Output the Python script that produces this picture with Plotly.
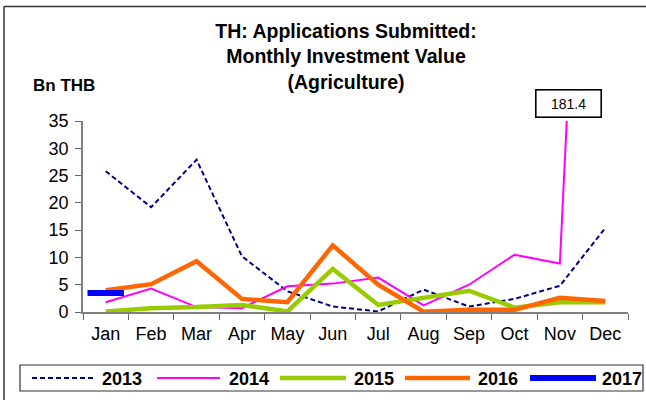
import plotly.graph_objects as go

months = ["Jan", "Feb", "Mar", "Apr", "May", "Jun", "Jul", "Aug", "Sep", "Oct", "Nov", "Dec"]
v2013 = [25.8, 19.2, 27.9, 10.2, 3.8, 1.0, 0.1, 4.1, 1.0, 2.4, 4.8, 15.4]
v2014 = [1.8, 4.3, 0.9, 0.7, 4.7, 5.2, 6.3, 1.2, 5.0, 10.5, 8.9, 181.4]
v2015 = [0.1, 0.7, 0.9, 1.3, 0.1, 7.9, 1.3, 2.7, 3.9, 0.8, 1.8, 1.8]
v2016 = [4.0, 5.1, 9.3, 2.4, 1.8, 12.2, 5.0, 0.05, 0.4, 0.4, 2.6, 2.0]
v2017 = [3.5]
years = ["2013", "2014", "2015", "2016", "2017"]
y_ticks = [0, 5, 10, 15, 20, 25, 30, 35]
peak_label = "181.4"

W, H = 646, 400
ML, MR, MT, MB = 83, 18, 121, 88
PW, PH = W - ML - MR, H - MT - MB


def px(x):
    return (x - ML) / PW


def py(y):
    return (H - MB - y) / PH


FONT = "Liberation Sans, Arial, sans-serif"
styles = {
    "2013": dict(color="#000080", width=2, dash="5px,3px"),
    "2014": dict(color="#FF00FF", width=2, dash="solid"),
    "2015": dict(color="#99CC00", width=4.5, dash="solid"),
    "2016": dict(color="#FF6600", width=4.5, dash="solid"),
    "2017": dict(color="#0000FF", width=6, dash="solid"),
}

fig = go.Figure()
for name, vals in zip(years[:4], [v2013, v2014, v2015, v2016]):
    fig.add_trace(go.Scatter(x=months[:len(vals)], y=vals, mode="lines", name=name,
                             line=styles[name], showlegend=False))
fig.add_trace(go.Scatter(x=months[:len(v2017)], y=v2017, mode="markers", name="2017",
                         marker=dict(symbol="line-ew", size=26,
                                     line=dict(color="#0000FF", width=6)),
                         showlegend=False, cliponaxis=False))

shapes = []
annotations = []
# page frame
shapes.append(dict(type="line", xref="paper", yref="paper", x0=px(4), x1=px(W + 5),
                   y0=py(6.5), y1=py(6.5), line=dict(color="#333333", width=1.5)))
shapes.append(dict(type="line", xref="paper", yref="paper", x0=px(4), x1=px(4),
                   y0=py(6.5), y1=py(H + 5), line=dict(color="#333333", width=1.5)))

# legend box
shapes.append(dict(type="rect", xref="paper", yref="paper", x0=px(20), x1=px(643),
                   y0=py(365), y1=py(391), line=dict(color="#333333", width=1.2),
                   fillcolor="white", layer="below"))
leg_x = [(32, 95, 100), (157, 220, 227), (280, 346, 352), (405, 470, 476), (530, 596, 600)]
leg_y = 378
for name, (a, b, t) in zip(years, leg_x):
    st = styles[name]
    shapes.append(dict(type="line", xref="paper", yref="paper", x0=px(a), x1=px(b),
                       y0=py(leg_y), y1=py(leg_y),
                       line=dict(color=st["color"], width=st["width"], dash=st["dash"])))
    annotations.append(dict(xref="paper", yref="paper", x=px(t), y=py(leg_y + 0.5), text="<b>%s</b>" % name,
                            showarrow=False, xanchor="left", yanchor="middle",
                            font=dict(family=FONT, size=18, color="black")))

# unit label
annotations.append(dict(xref="paper", yref="paper", x=px(31), y=py(85), text="<b>Bn THB</b>",
                        showarrow=False, xanchor="left", yanchor="middle",
                        font=dict(family=FONT, size=17, color="black")))
# peak label
annotations.append(dict(xref="paper", yref="paper", x=px(568), y=py(103.5), text=peak_label,
                        showarrow=False, xanchor="center", yanchor="middle",
                        width=62, height=24, borderpad=1, bordercolor="black", borderwidth=1.6,
                        bgcolor="white", font=dict(family=FONT, size=14, color="black")))

fig.update_layout(
    width=W, height=H,
    margin=dict(l=ML, r=MR, t=MT, b=MB),
    paper_bgcolor="white", plot_bgcolor="white",
    title=dict(text="<b>TH: Applications Submitted:<br>Monthly Investment Value<br>(Agriculture)</b>",
               x=346 / W, xanchor="center", y=1 - 38 / H, yanchor="middle",
               font=dict(family=FONT, size=19.5, color="black")),
    shapes=shapes, annotations=annotations,
    showlegend=False,
    xaxis=dict(type="category", categoryorder="array", categoryarray=months,
               range=[-0.5, 11.5], tickson="boundaries", ticks="outside", ticklen=6,
               tickcolor="#666666", tickwidth=1.3, showline=True, linecolor="#808080", linewidth=1.6,
               showgrid=False, zeroline=False, ticklabelstandoff=5,
               tickfont=dict(family=FONT, size=18, color="black")),
    yaxis=dict(range=[0, 35], tickvals=y_ticks, ticks="outside", ticklen=6,
               tickcolor="#666666", tickwidth=1.3, showline=True, linecolor="#808080", linewidth=1.6,
               showgrid=False, zeroline=False, ticklabelstandoff=3,
               tickfont=dict(family=FONT, size=18, color="black")),
)

fig.write_html("out.html", config={"displayModeBar": False},
               post_script="document.body.style.margin='0';document.body.style.overflow='hidden';")
